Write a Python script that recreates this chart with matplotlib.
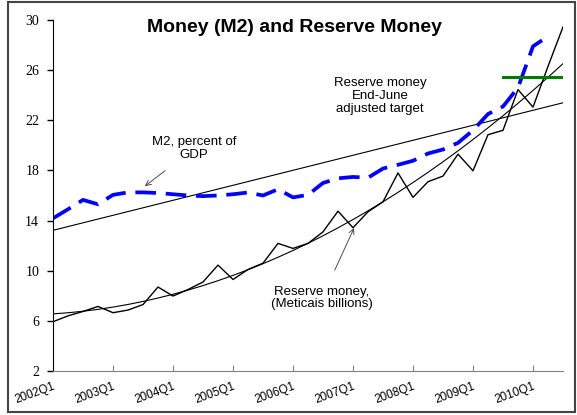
import numpy as np
import matplotlib
matplotlib.use("Agg")
import matplotlib.pyplot as plt
from matplotlib.patches import Rectangle

# trimestres 2002Q1 .. 2010Q3
quarters = [f"{y}Q{q}" for y in range(2002, 2011) for q in range(1, 5)][:35]

reserve_money = [5.93, 6.4, 6.75, 7.15, 6.65, 6.86, 7.3, 8.7, 7.98, 8.5,
                 9.1, 10.45, 9.3, 10.1, 10.6, 12.18, 11.78, 12.18, 13.1, 14.75,
                 13.43, 14.7, 15.5, 17.8, 15.85, 17.1, 17.55, 19.3, 17.97, 20.85,
                 21.2, 24.45, 23.05, 26.3, 29.45]

m2_gdp = [14.18, 14.9, 15.65, 15.3, 16.05, 16.25, 16.25, 16.2, 16.1, 16.0,
          15.95, 16.0, 16.1, 16.24, 16.0, 16.5, 15.85, 16.05, 17.0, 17.37,
          17.48, 17.42, 18.15, 18.45, 18.77, 19.35, 19.67, 20.2, 21.2, 22.5,
          23.1, 24.6, 27.9, 28.7]

target_quarters = ["2009Q3", "2009Q4", "2010Q1", "2010Q2", "2010Q3"]
target_value = 25.45

x = np.arange(len(quarters))
x_rm = x[:len(reserve_money)]
x_m2 = x[:len(m2_gdp)]
x_tg = [quarters.index(q) for q in target_quarters]

# lineas de tendencia (polinomica para reserva, lineal para M2)
rm_trend = np.polyval(np.polyfit(x_rm, reserve_money, 2), x)
m2_trend = np.polyval(np.polyfit(x_m2, m2_gdp, 1), x)

fig = plt.figure(figsize=(5.77, 4.15), dpi=100)
ax = fig.add_axes([53/577, 1 - 371/415, 510/577, 351/415])

ax.plot(x, m2_trend, color="black", lw=0.8)
ax.plot(x, rm_trend, color="black", lw=0.8)
ax.plot(x_rm, reserve_money, color="black", lw=1.0)
ax.plot(x_m2, m2_gdp, color="#0000FF", lw=2.7, dashes=(5.5, 2.6))
ax.plot(x_tg, [target_value] * len(x_tg), color="#007A00", lw=2.2)

ax.set_xlim(0, 34)
ax.set_ylim(2, 30)
ax.set_yticks(range(2, 31, 4))
ax.set_xticks(x[::4][:9])
ax.set_xticklabels(quarters[::4][:9], rotation=20, ha="right",
                   rotation_mode="anchor", fontsize=8.5,
                   family="Liberation Sans")
for lbl in ax.get_yticklabels():
    lbl.set_family("Liberation Serif")
    lbl.set_fontsize(10)

ax.spines["top"].set_visible(False)
ax.spines["right"].set_visible(False)
ax.spines["left"].set_color("black")
ax.spines["bottom"].set_color("#808080")
ax.tick_params(axis="y", direction="out", length=4, width=1, pad=6)
ax.tick_params(axis="x", direction="in", length=4, color="#808080", pad=7)

fig.text(0.511, 1 - 27/415, "Money (M2) and Reserve Money", ha="center",
         va="center", fontsize=14, fontweight="bold", family="Liberation Sans")

txt = dict(ha="center", va="center", fontsize=9.5, family="Liberation Sans",
           linespacing=1.1)
ax.text(21.8, 23.93, "Reserve money\nEnd-June\nadjusted target", **txt)
ax.annotate("M2, percent of\nGDP", xy=(6.13, 16.75), xytext=(9.4, 19.74),
            arrowprops=dict(arrowstyle="->", color="#333333", lw=0.6,
                            shrinkA=8, shrinkB=0), **txt)
ax.annotate("Reserve money,\n(Meticais billions)", xy=(20.07, 13.4),
            xytext=(17.93, 7.82),
            arrowprops=dict(arrowstyle="->", color="#333333", lw=0.6,
                            shrinkA=10, shrinkB=0), **txt)

fig.patches.append(Rectangle((8/577, 1 - 412/415), 567/577, 410/415,
                             transform=fig.transFigure, fill=False,
                             edgecolor="#444444", lw=1.5))

fig.savefig("out.png", dpi=100)
